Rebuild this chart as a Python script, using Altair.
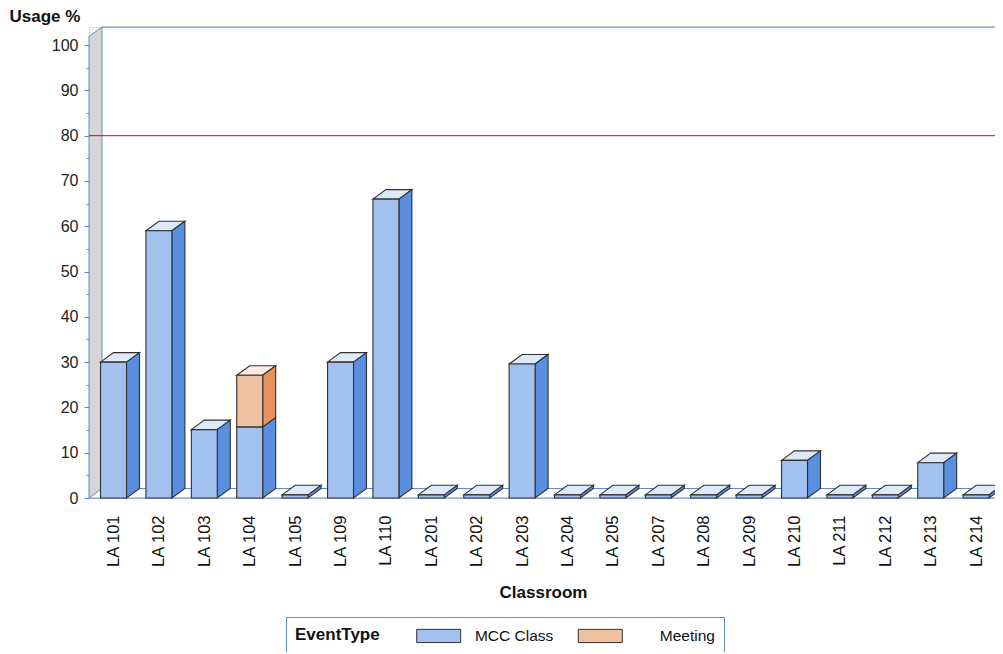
import json
import altair as alt
import pandas as pd

# ---------------- data ----------------
classrooms = ["LA 101", "LA 102", "LA 103", "LA 104", "LA 105", "LA 109", "LA 110",
              "LA 201", "LA 202", "LA 203", "LA 204", "LA 205", "LA 207", "LA 208",
              "LA 209", "LA 210", "LA 211", "LA 212", "LA 213", "LA 214"]
mcc_class = [30, 59, 15.1, 15.7, 0.7, 30, 66, 0.7, 0.7, 29.6, 0.7, 0.7, 0.7, 0.7,
             0.7, 8.3, 0.7, 0.7, 7.8, 0.7]
meeting = [0, 0, 0, 11.4, 0, 0, 0, 0, 0, 0, 0, 0, 0, 0, 0, 0, 0, 0, 0, 0]
event_types = ["MCC Class", "Meeting"]
threshold = [80]
y_tick_values = list(range(0, 101, 5))

# ---------------- styling / geometry ----------------
FRONT = {"MCC Class": "#a3c1ef", "Meeting": "#f0c1a0"}
SIDE = {"MCC Class": "#5a8fe0", "Meeting": "#e5925c"}
TOP = {"MCC Class": "#deeafa", "Meeting": "#fbebe0"}
EDGE = "#303030"
FRAME = "#5f8ac8"
FONT = "Liberation Sans"

PAD_L, PAD_T = 81, 19
W, H = 906, 471
XMIN = -0.54
XMAX = XMIN + W / 45.4
YMAX = 104.0
HW = 0.286      # half width of a bar's front face (category units)
DX = 0.286      # depth, x (category units)
DY = 2.1        # depth, y (value units)
WALL_TOP = YMAX - DY

# ---------------- tables built from the lists ----------------
fronts, sides, tops = [], [], []
for i, room in enumerate(classrooms):
    base = 0.0
    segs = [(t, v) for t, v in zip(event_types, [mcc_class[i], meeting[i]]) if v > 0]
    for k, (t, v) in enumerate(segs):
        y0, y1 = base, base + v
        sid = f"{room}-{t}"
        fronts.append(dict(room=room, type=t, xl=i - HW, xr=i + HW, y0=y0, y1=y1))
        sides.append(dict(sid=sid, x=i + HW, lo=y0, hi=y1, fill=SIDE[t]))
        sides.append(dict(sid=sid, x=i + HW + DX, lo=y0 + DY, hi=y1 + DY, fill=SIDE[t]))
        if k == len(segs) - 1:
            for x, lo, hi in [(i - HW, y1, y1), (i - HW + DX, y1, y1 + DY),
                              (i + HW, y1, y1 + DY), (i + HW + DX, y1 + DY, y1 + DY)]:
                tops.append(dict(sid=sid, x=x, lo=lo, hi=hi, fill=TOP[t]))
        base = y1

fronts = pd.DataFrame(fronts)
sides = pd.DataFrame(sides)
tops = pd.DataFrame(tops)
wall = pd.DataFrame(dict(x=[XMIN, XMIN + DX], lo=[0, DY], hi=[WALL_TOP, YMAX]))
thr = pd.DataFrame(dict(v=threshold))

# ---------------- scales / axes ----------------
xs = alt.Scale(domain=[XMIN, XMAX], nice=False, zero=False)
ys = alt.Scale(domain=[0, YMAX], nice=False, zero=False)

label_array = json.dumps(classrooms)
xaxis = alt.Axis(
    values=list(range(len(classrooms))),
    labelExpr=f"{label_array}[datum.value]",
    labelAngle=-90, labelAlign="right", labelBaseline="middle",
    ticks=False, tickSize=0, domain=False, grid=False,
    labelPadding=17, labelFontSize=16.5, labelColor="#111", labelFont=FONT,
    title="Classroom", titleFontSize=17, titleFontWeight="bold", titleFont=FONT,
    titleColor="#111", titleX=(W) / 2 + 1, titleY=99, titleBaseline="alphabetic",
    titleAlign="center",
)
yaxis = alt.Axis(
    values=y_tick_values,
    labelExpr="datum.value % 10 === 0 ? datum.label : ''",
    tickSize={"condition": {"test": "datum.value % 10 === 0", "value": 5}, "value": 3},
    tickColor=FRAME, domain=False, grid=False,
    labelPadding=6, labelFontSize=16, labelColor="#222", labelFont=FONT,
    title="Usage %", titleAngle=0, titleAlign="left", titleBaseline="alphabetic",
    titleX=-80, titleY=-6, titleFontSize=17, titleFontWeight="bold", titleFont=FONT,
    titleColor="#111",
)

def X(field, **kw):
    return alt.X(field, type="quantitative", scale=xs, axis=xaxis, **kw)

def Y(field, **kw):
    return alt.Y(field, type="quantitative", scale=ys, axis=yaxis, **kw)

wall_layer = alt.Chart(wall).mark_area(fill="#d6d6d8", stroke=FRAME, strokeWidth=1).encode(
    x=X("x"), y=Y("hi"), y2="lo")

frame_src = alt.Chart(thr)
floor_front = frame_src.mark_rule(color=FRAME, strokeWidth=1.2).encode(
    x=alt.X(datum=XMIN, scale=xs, axis=xaxis),
    x2=alt.value(W), y=alt.Y(datum=0, scale=ys, axis=yaxis))
floor_back = frame_src.mark_rule(color=FRAME, strokeWidth=1).encode(
    x=alt.X(datum=XMIN + DX, scale=xs, axis=xaxis),
    x2=alt.value(W), y=alt.Y(datum=DY, scale=ys, axis=yaxis))
back_top = frame_src.mark_rule(color=FRAME, strokeWidth=1.2).encode(
    x=alt.X(datum=XMIN + DX, scale=xs, axis=xaxis),
    x2=alt.value(W), y=alt.Y(datum=YMAX, scale=ys, axis=yaxis))

red_line = alt.Chart(thr).mark_rule(color="#e00000", strokeWidth=1).encode(
    y=Y("v"))

top_layer = alt.Chart(tops).mark_area(stroke=EDGE, strokeWidth=1.1, strokeJoin="miter").encode(
    x=X("x"), y=Y("hi"), y2="lo", detail="sid:N",
    color=alt.Color("fill:N", scale=None))
side_layer = alt.Chart(sides).mark_area(stroke=EDGE, strokeWidth=1.1, strokeJoin="miter").encode(
    x=X("x"), y=Y("hi"), y2="lo", detail="sid:N",
    color=alt.Color("fill:N", scale=None))

LEG_LABEL = 15.5
legend = alt.Legend(
    orient="none", legendX=197, legendY=590, direction="horizontal",
    title="EventType", titleOrient="left", titleFontSize=17, titleFontWeight="bold",
    titleFont=FONT, titleColor="#111", titlePadding=36, titleBaseline="middle",
    labelFontSize=LEG_LABEL, labelFont=FONT, labelColor="#111",
    labelAlign="right", labelOffset=118.3,
    columnPadding=21.6, gridAlign="all",
    symbolType="M-1,-0.75H4V0.75H-1Z", symbolSize=309.76,
    symbolStrokeColor="#333", symbolStrokeWidth=1, symbolOpacity=1,
    strokeColor=FRAME, fillColor="white", padding=9,
)
front_layer = alt.Chart(fronts).mark_bar(stroke=EDGE, strokeWidth=1.1, opacity=1).encode(
    x=X("xl"), x2="xr", y=Y("y0"), y2="y1",
    color=alt.Color("type:N", scale=alt.Scale(domain=event_types,
                                              range=[FRONT[t] for t in event_types]),
                    legend=legend))

chart = alt.layer(
    wall_layer, floor_front, floor_back, back_top, red_line,
    top_layer, side_layer, front_layer,
).properties(
    width=W, height=H,
    autosize=alt.AutoSizeParams(type="none"),
    padding={"left": PAD_L, "top": PAD_T, "right": 0, "bottom": 154},
).configure_view(stroke=None).configure(font=FONT)

chart.save("out.html", embed_options={"renderer": "svg", "actions": False})
